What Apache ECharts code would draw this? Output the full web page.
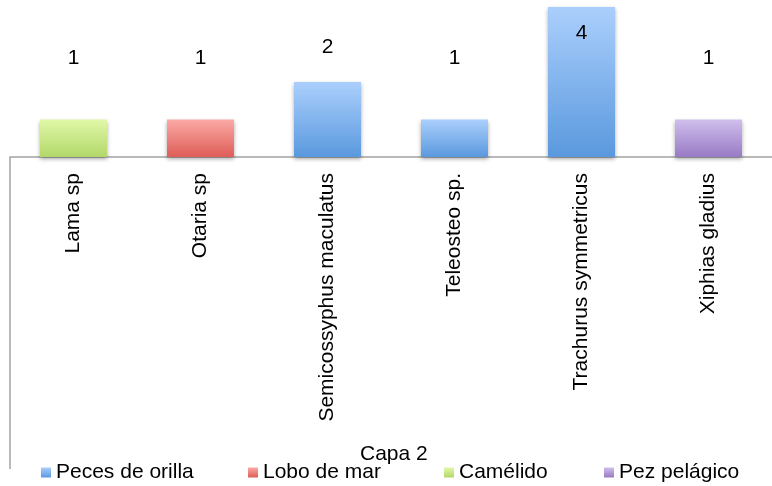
<!DOCTYPE html>
<html>
<head>
<meta charset="utf-8">
<script src="https://cdn.jsdelivr.net/npm/echarts@6/dist/echarts.min.js"></script>
<style>
  html, body { margin: 0; padding: 0; overflow: hidden; background: #fff; }
  #chart { width: 772px; height: 486px; }
</style>
</head>
<body>
<div id="chart"></div>
<script>
const categories = ['Lama sp', 'Otaria sp', 'Semicossyphus maculatus', 'Teleosteo sp.', 'Trachurus symmetricus', 'Xiphias gladius'];
const pecesDeOrilla = ['-', '-', 2, 1, 4, '-'];
const loboDeMar = ['-', 1, '-', '-', '-', '-'];
const camelido = [1, '-', '-', '-', '-', '-'];
const pezPelagico = ['-', '-', '-', '-', '-', 1];
const legendNames = ['Peces de orilla', 'Lobo de mar', 'Camélido', 'Pez pelágico'];
const titleText = 'Capa 2';

// where excel put the value labels (offset from the bar top, by value)
const labelShift = { 1: -51, 2: -24, 4: 37 };
// legend entries sit in their own columns
const legendLeft = [41, 248, 444, 604];

const fontFam = 'Liberation Sans';

const grad = (top, bottom) => new echarts.graphic.LinearGradient(0, 0, 0, 1, [
  { offset: 0, color: top },
  { offset: 1, color: bottom }
]);

const makeSeries = (name, data, top, bottom) => ({
  name: name,
  type: 'bar',
  stack: 'capa',
  barWidth: 67,
  data: data.map(v => v === '-' ? v : {
    value: v,
    label: { offset: [0, labelShift[v] || 0] }
  }),
  itemStyle: {
    color: grad(top, bottom),
    shadowColor: 'rgba(0,0,0,0.35)',
    shadowBlur: 4,
    shadowOffsetY: 2
  },
  label: {
    show: true,
    position: 'top',
    distance: 0,
    color: '#000',
    fontSize: 21,
    fontFamily: fontFam
  }
});

const chart = echarts.init(document.getElementById('chart'));
chart.setOption({
  animation: false,
  title: {
    text: titleText,
    left: 355,
    top: 439,
    textStyle: { fontSize: 21, fontWeight: 'normal', color: '#000', fontFamily: fontFam }
  },
  legend: legendNames.map((n, i) => ({
    left: legendLeft[i] - 5,
    top: 457,
    icon: 'rect',
    itemWidth: 10,
    itemHeight: 10,
    textStyle: { fontSize: 21, color: '#000', fontFamily: fontFam },
    data: [n]
  })),
  grid: { left: 10, right: -4, top: 7, bottom: 329, containLabel: false },
  xAxis: {
    type: 'category',
    data: categories,
    axisTick: { show: false },
    axisLine: { lineStyle: { color: '#a3a3a3', width: 1.5 } },
    axisLabel: {
      rotate: 90,
      margin: 16,
      interval: 0,
      color: '#000',
      fontSize: 21,
      fontFamily: fontFam
    }
  },
  yAxis: { type: 'value', min: 0, max: 4, show: false },
  graphic: [{
    type: 'line',
    shape: { x1: 10, y1: 157, x2: 10, y2: 469 },
    style: { stroke: '#a3a3a3', lineWidth: 1.5 }
  }],
  series: [
    makeSeries(legendNames[0], pecesDeOrilla, '#abcffc', '#5a99de'),
    makeSeries(legendNames[1], loboDeMar, '#fbaaa6', '#de5d57'),
    makeSeries(legendNames[2], camelido, '#e1f8a8', '#b2d769'),
    makeSeries(legendNames[3], pezPelagico, '#d0bfec', '#987ac5')
  ]
});
</script>
</body>
</html>
